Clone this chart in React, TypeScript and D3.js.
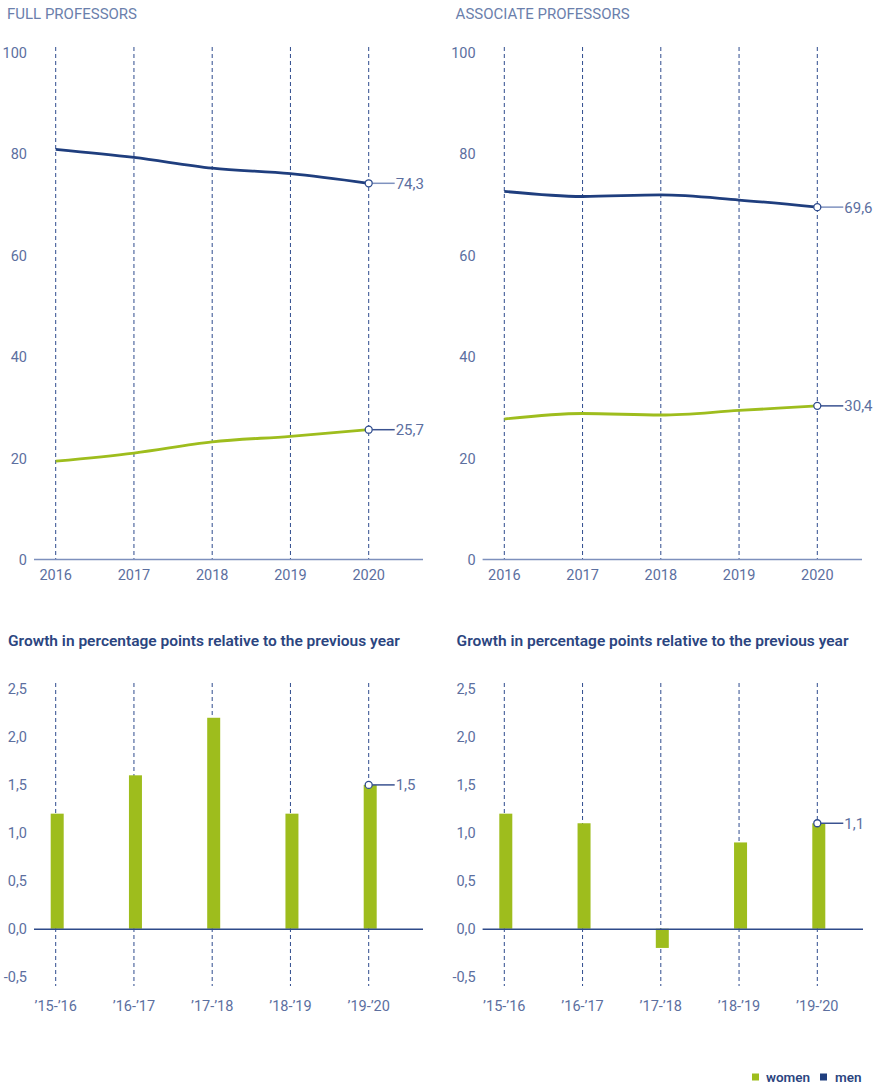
import React from "react";
import * as d3 from "d3";

const years = ["2016", "2017", "2018", "2019", "2020"];
const periods = ["’15-’16", "’16-’17", "’17-’18", "’18-’19", "’19-’20"];

const fullMen = [81.0, 79.4, 77.3, 76.2, 74.3];
const fullWomen = [19.5, 21.1, 23.3, 24.4, 25.7];
const assocMen = [72.7, 71.7, 72.0, 71.0, 69.6];
const assocWomen = [27.8, 28.9, 28.6, 29.5, 30.4];

const fullGrowth = [1.2, 1.6, 2.2, 1.2, 1.5];
const assocGrowth = [1.2, 1.1, -0.2, 0.9, 1.1];

const topTicks = [0, 20, 40, 60, 80, 100];
const bottomTicks = [-0.5, 0, 0.5, 1.0, 1.5, 2.0, 2.5];

const panelTitles = ["FULL PROFESSORS", "ASSOCIATE PROFESSORS"];
const subtitle = "Growth in percentage points relative to the previous year";
const legendItems = ["women", "men"];

const NAVY = "#1f3e7e";
const GREEN = "#9ebd1d";
const GRID = "#2f4c8e";
const TICK = "#5c6f9f";
const FONT = "Roboto, 'Noto Sans', sans-serif";

const fmt = (v: number) => v.toFixed(1).replace(".", ",");

function LinePanel({ ox, title, men, women, axisEnd }: { ox: number; title: string; men: number[]; women: number[]; axisEnd: number }) {
  const x = d3.scalePoint<string>().domain(years).range([ox + 55.7, ox + 368.7]);
  const y = d3.scaleLinear().domain([0, 100]).range([560, 53]);
  const line = d3
    .line<number>()
    .x((_, i) => x(years[i]) as number)
    .y((d) => y(d))
    .curve(d3.curveMonotoneX);
  const lastX = x(years[years.length - 1]) as number;
  const series = [
    { data: men, color: NAVY, conn: "#7f92bf" },
    { data: women, color: GREEN, conn: "#3a5290" },
  ];
  return (
    <g>
      <text x={ox + 7} y={19} fill="#6b7fac" fontSize={15} fontFamily={FONT}>
        {title}
      </text>
      {years.map((yr) => (
        <line key={yr} x1={x(yr)} x2={x(yr)} y1={47} y2={559} stroke={GRID} strokeWidth={1} strokeDasharray="4,3" />
      ))}
      <line x1={ox + 34} x2={axisEnd} y1={559.5} y2={559.5} stroke="#7d90bd" strokeWidth={1.6} />
      {topTicks.map((t) => (
        <text key={t} x={ox + 27} y={y(t)} dy="0.35em" textAnchor="end" fill={TICK} fontSize={14.5} fontFamily={FONT}>
          {t}
        </text>
      ))}
      {years.map((yr) => (
        <text key={yr} x={x(yr)} y={580} textAnchor="middle" fill={TICK} fontSize={14.5} fontFamily={FONT}>
          {yr}
        </text>
      ))}
      {series.map((s, i) => (
        <g key={i}>
          <path d={line(s.data) || ""} fill="none" stroke={s.color} strokeWidth={2.8} />
          <line x1={lastX + 3.5} x2={lastX + 26} y1={y(s.data[4])} y2={y(s.data[4])} stroke={s.conn} strokeWidth={1.5} />
          <circle cx={lastX} cy={y(s.data[4])} r={3.5} fill="#fff" stroke={GRID} strokeWidth={1.3} />
          <text x={lastX + 27} y={y(s.data[4])} dy="0.36em" fill={TICK} fontSize={15} fontFamily={FONT}>
            {fmt(s.data[4])}
          </text>
        </g>
      ))}
    </g>
  );
}

function BarPanel({ ox, values, axisEnd }: { ox: number; values: number[]; axisEnd: number }) {
  const x = d3.scalePoint<string>().domain(periods).range([ox + 55.7, ox + 368.7]);
  const y = d3.scaleLinear().domain([-0.5, 2.5]).range([976.7, 689]);
  const bw = 13;
  const lastX = x(periods[periods.length - 1]) as number;
  const last = values[values.length - 1];
  return (
    <g>
      <text x={ox + 8} y={646} fill="#2b4580" fontSize={15.5} fontWeight={600} fontFamily={FONT}>
        {subtitle}
      </text>
      {periods.map((p) => (
        <line key={p} x1={x(p)} x2={x(p)} y1={683} y2={986} stroke={GRID} strokeWidth={1} strokeDasharray="4,3" />
      ))}
      {values.map((v, i) => (
        <rect
          key={i}
          x={(x(periods[i]) as number) - bw / 2 + 1.5}
          y={y(Math.max(v, 0))}
          width={bw}
          height={Math.abs(y(v) - y(0))}
          fill={GREEN}
        />
      ))}
      <line x1={ox + 34} x2={axisEnd} y1={y(0) + 0.5} y2={y(0) + 0.5} stroke="#2e4a8a" strokeWidth={1.5} />
      {bottomTicks.map((t) => (
        <text key={t} x={ox + 27} y={y(t)} dy="0.35em" textAnchor="end" fill={TICK} fontSize={14.5} fontFamily={FONT}>
          {fmt(t)}
        </text>
      ))}
      {periods.map((p) => (
        <text key={p} x={x(p)} y={1011} textAnchor="middle" fill={TICK} fontSize={14.5} fontFamily={FONT}>
          {p}
        </text>
      ))}
      <line x1={lastX + 3.5} x2={lastX + 26} y1={y(last)} y2={y(last)} stroke="#3a5290" strokeWidth={1.5} />
      <circle cx={lastX} cy={y(last)} r={3.5} fill="#fff" stroke={GRID} strokeWidth={1.3} />
      <text x={lastX + 27} y={y(last)} dy="0.36em" fill={TICK} fontSize={15} fontFamily={FONT}>
        {fmt(last)}
      </text>
    </g>
  );
}

export default function App() {
  const offR = 448.6;
  return (
    <svg width={882} height={1088} style={{ position: "absolute", left: 0, top: 0, background: "#fff" }}>
      <LinePanel ox={0} title={panelTitles[0]} men={fullMen} women={fullWomen} axisEnd={423} />
      <LinePanel ox={offR} title={panelTitles[1]} men={assocMen} women={assocWomen} axisEnd={862} />
      <BarPanel ox={0} values={fullGrowth} axisEnd={423} />
      <BarPanel ox={offR} values={assocGrowth} axisEnd={863} />
      <g fontFamily={FONT} fontSize={13.5} fontWeight={600} fill="#2b4580">
        <rect x={752} y={1073.5} width={7} height={7} fill={GREEN} />
        <text x={766} y={1082}>{legendItems[0]}</text>
        <rect x={820} y={1073.5} width={7} height={7} fill={NAVY} />
        <text x={835} y={1082}>{legendItems[1]}</text>
      </g>
    </svg>
  );
}
